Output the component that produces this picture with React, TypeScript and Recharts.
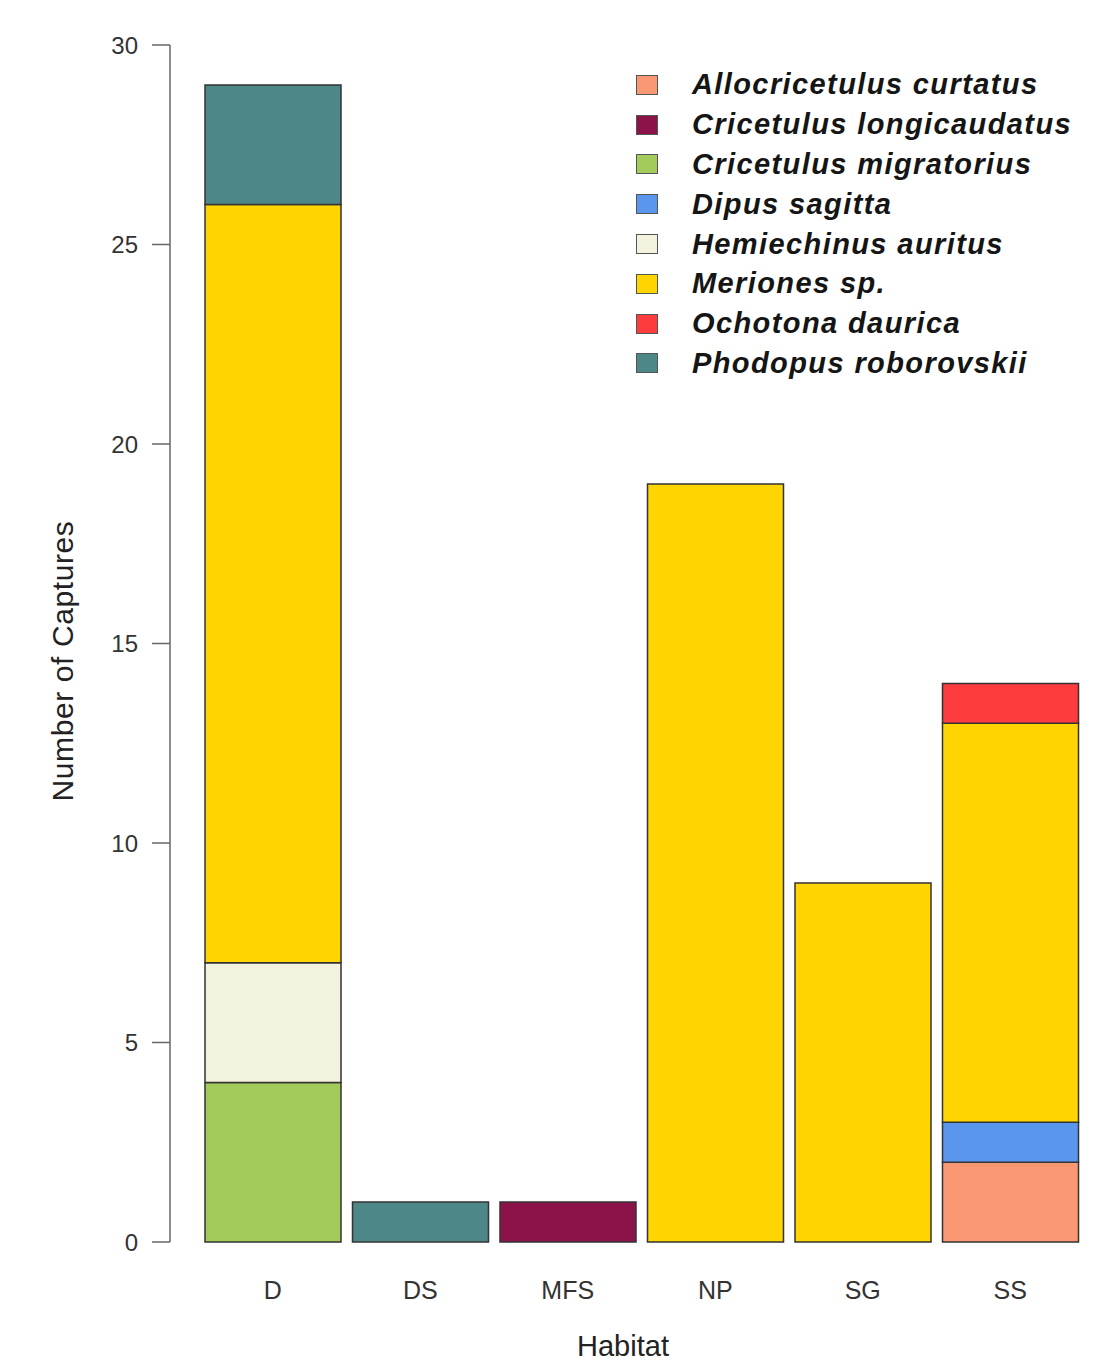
import React from "react";
import { BarChart, Bar, XAxis, YAxis, Label } from "recharts";

const habitats = ["D", "DS", "MFS", "NP", "SG", "SS"];
const yTicks = [0, 5, 10, 15, 20, 25, 30];

const species = [
	"Allocricetulus curtatus",
	"Cricetulus longicaudatus",
	"Cricetulus migratorius",
	"Dipus sagitta",
	"Hemiechinus auritus",
	"Meriones sp.",
	"Ochotona daurica",
	"Phodopus roborovskii",
];

const colors = [
	"#FA9873",
	"#8C1349",
	"#A2CB5C",
	"#5A96EC",
	"#F3F2DE",
	"#FED500",
	"#FE3B3E",
	"#4D8787",
];

// counts per habitat: D, DS, MFS, NP, SG, SS
const allocricetulus = [0, 0, 0, 0, 0, 2];
const longicaudatus = [0, 0, 1, 0, 0, 0];
const migratorius = [4, 0, 0, 0, 0, 0];
const dipus = [0, 0, 0, 0, 0, 1];
const hemiechinus = [3, 0, 0, 0, 0, 0];
const meriones = [19, 0, 0, 19, 9, 10];
const ochotona = [0, 0, 0, 0, 0, 1];
const phodopus = [3, 1, 0, 0, 0, 0];

const seriesValues = [
	allocricetulus,
	longicaudatus,
	migratorius,
	dipus,
	hemiechinus,
	meriones,
	ochotona,
	phodopus,
];

const data = habitats.map((h, i) => {
	const row: Record<string, string | number | null> = { habitat: h };
	species.forEach((s, k) => {
		const v = seriesValues[k][i];
		row[s] = v === 0 ? null : v;
	});
	return row;
});

const font = "'Liberation Sans', Arial, sans-serif";

// legend drawn as plain html so it doesn't eat plot space
function SpeciesLegend() {
	return (
		<div
			style={{
				position: "absolute",
				left: 636,
				top: 65,
				fontFamily: font,
			}}
		>
			{species.map((s, k) => (
				<div
					key={s}
					style={{ display: "flex", alignItems: "center", height: 39.8 }}
				>
					<span
						style={{
							width: 22,
							height: 20,
							background: colors[k],
							border: "1.5px solid #555",
							boxSizing: "border-box",
							marginRight: 34,
						}}
					/>
					<span
						style={{
							fontSize: 29,
							fontWeight: "bold",
							fontStyle: "italic",
							letterSpacing: 1.4,
							color: "#151515",
						}}
					>
						{s}
					</span>
				</div>
			))}
		</div>
	);
}

export default function App() {
	return (
		<div
			style={{
				position: "absolute",
				left: 0,
				top: 0,
				width: 1118,
				height: 1364,
				background: "#fff",
			}}
		>
			<BarChart
				width={1118}
				height={1364}
				data={data}
				margin={{ top: 45, right: 34, bottom: 0, left: 0 }}
				barCategoryGap={6}
			>
				<XAxis
					dataKey="habitat"
					axisLine={false}
					tickLine={false}
					tickSize={0}
					tickMargin={39}
					height={122}
					padding={{ left: 29, right: 0 }}
					tick={{ fontSize: 25, fill: "#333", fontFamily: font }}
				>
					<Label
						content={() => (
							<text
								x={623}
								y={1356}
								textAnchor="middle"
								fontSize={29}
								fill="#222"
								fontFamily={font}
							>
								Habitat
							</text>
						)}
					/>
				</XAxis>
				<YAxis
					type="number"
					domain={[0, 30]}
					ticks={yTicks}
					width={170}
					tickSize={18}
					tickMargin={14}
					axisLine={{ stroke: "#666", strokeWidth: 1.5 }}
					tickLine={{ stroke: "#666", strokeWidth: 1.5 }}
					tick={{ fontSize: 24, fill: "#333", fontFamily: font }}
				>
					<Label
						content={() => (
							<text
								x={73}
								y={661}
								textAnchor="middle"
								fontSize={30}
								letterSpacing={0.6}
								fill="#222"
								fontFamily={font}
								transform="rotate(-90 73 661)"
							>
								Number of Captures
							</text>
						)}
					/>
				</YAxis>
				{species.map((s, k) => (
					<Bar
						key={s}
						dataKey={s}
						stackId="a"
						fill={colors[k]}
						stroke="#333"
						strokeWidth={1.5}
						isAnimationActive={false}
					/>
				))}
			</BarChart>
			<SpeciesLegend />
		</div>
	);
}
